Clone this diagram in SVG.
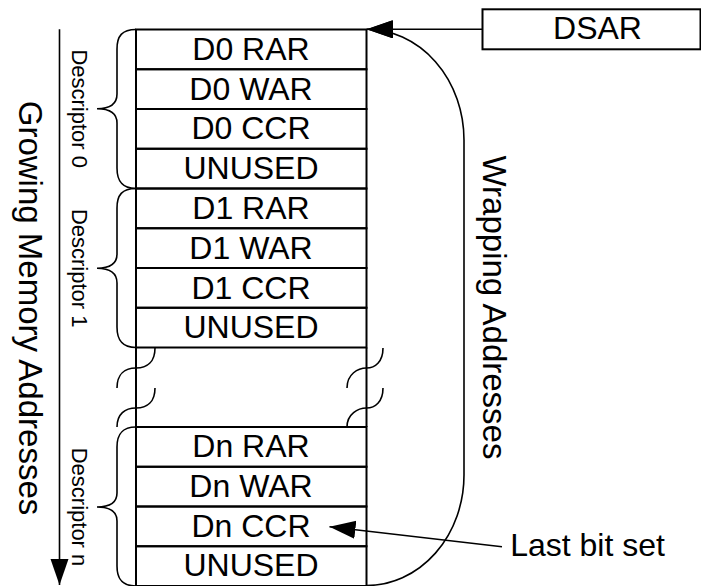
<svg xmlns="http://www.w3.org/2000/svg" width="701" height="586" viewBox="0 0 701 586">
<style>
.ln{fill:none;stroke:#000;stroke-width:2}
.cn{fill:none;stroke:#000;stroke-width:1.6}
.t{font-family:"Liberation Sans",Arial,sans-serif;font-size:32px;text-anchor:middle;fill:#000}
.v{font-family:"Liberation Sans",Arial,sans-serif;font-size:33px;text-anchor:middle;fill:#000}
.d{font-family:"Liberation Sans",Arial,sans-serif;font-size:22px;text-anchor:middle;fill:#000}
</style>
<defs>
<marker id="ah" markerUnits="userSpaceOnUse" markerWidth="28" markerHeight="20" refX="26" refY="9" orient="auto">
<path d="M0,0 L26,9 L0,18 Z" fill="#000"/>
</marker>
</defs>
<rect width="701" height="586" fill="#fff"/>

<g id="descriptor0">
<rect class="ln" x="136" y="29.5" width="230.5" height="39.75"/>
<rect class="ln" x="136" y="69.25" width="230.5" height="39.75"/>
<rect class="ln" x="136" y="109" width="230.5" height="39.75"/>
<rect class="ln" x="136" y="148.75" width="230.5" height="39.75"/>
<text class="t" x="251" y="59.8">D0 RAR</text>
<text class="t" x="251" y="99.5">D0 WAR</text>
<text class="t" x="251" y="139.3">D0 CCR</text>
<text class="t" x="251" y="179">UNUSED</text>
</g>

<g id="descriptor1">
<rect class="ln" x="136" y="188.5" width="230.5" height="39.75"/>
<rect class="ln" x="136" y="228.25" width="230.5" height="39.75"/>
<rect class="ln" x="136" y="268" width="230.5" height="39.75"/>
<rect class="ln" x="136" y="307.75" width="230.5" height="39.75"/>
<text class="t" x="251" y="219">D1 RAR</text>
<text class="t" x="251" y="258.8">D1 WAR</text>
<text class="t" x="251" y="298.5">D1 CCR</text>
<text class="t" x="251" y="338.3">UNUSED</text>
</g>

<g id="gap">
<line class="ln" x1="136" y1="347.5" x2="136" y2="427"/>
<line class="ln" x1="366.5" y1="347.5" x2="366.5" y2="427"/>
<path class="cn" d="M155,348 C155,362 147,368 136,368 C125,368 117,374 117,388"/>
<path class="cn" d="M155,388 C155,402 147,408 136,408 C125,408 117,414 117,427"/>
<path class="cn" d="M383,348 C383,362 375,368 366.5,368 C358,368 347,374 347,388"/>
<path class="cn" d="M383,388 C383,402 375,408 366.5,408 C358,408 347,414 347,427"/>
</g>

<g id="descriptorN">
<rect class="ln" x="136" y="427" width="230.5" height="39.75"/>
<rect class="ln" x="136" y="466.75" width="230.5" height="39.75"/>
<rect class="ln" x="136" y="506.5" width="230.5" height="39.75"/>
<rect class="ln" x="136" y="546.25" width="230.5" height="39.75"/>
<text class="t" x="251" y="457">Dn RAR</text>
<text class="t" x="251" y="496.8">Dn WAR</text>
<text class="t" x="251" y="536.5">Dn CCR</text>
<text class="t" x="251" y="576.3">UNUSED</text>
</g>

<g id="braces">
<path class="cn" d="M136,29.5 C122,29.5 117,36 117,49 L117,94 C117,104 110,108.7 97,108.7 C110,108.7 117,113 117,123 L117,168 C117,181 122,188.5 136,188.5"/>
<path class="cn" d="M136,188.5 C122,188.5 117,195 117,208 L117,254 C117,264 110,268.2 97,268.2 C110,268.2 117,273 117,283 L117,327 C117,340 122,347.5 136,347.5"/>
<path class="cn" d="M136,427 C122,427 117,434 117,447 L117,493 C117,503 110,507 97,507 C110,507 117,511 117,521 L117,566 C117,579 122,586 136,586"/>
</g>

<g id="labels">
<text class="d" transform="translate(71.5,108.7) rotate(90)">Descriptor 0</text>
<text class="d" transform="translate(71.5,268.2) rotate(90)">Descriptor 1</text>
<text class="d" transform="translate(71.5,507) rotate(90)">Descriptor n</text>
<text class="v" transform="translate(19.4,308) rotate(90)">Growing Memory Addresses</text>
<text class="v" transform="translate(483.3,307.5) rotate(90)">Wrapping Addresses</text>
</g>

<g id="dsar">
<rect class="ln" x="482.5" y="9.3" width="218" height="40"/>
<text class="t" x="597.5" y="39.3">DSAR</text>
</g>

<g id="lastbit">
<text class="t" x="587.5" y="556">Last bit set</text>
</g>

<g id="connectors">
<line class="cn" x1="59.5" y1="29.3" x2="59.5" y2="585" marker-end="url(#ah)"/>
<line class="cn" x1="482.5" y1="29.3" x2="367" y2="29.3" marker-end="url(#ah)"/>
<path class="cn" d="M366.5,585.5 A97.5,110.5 0 0 0 464,475 L464,140 A97.5,110.7 0 0 0 366.5,29.3" marker-end="url(#ah)"/>
<line class="cn" x1="502" y1="546.7" x2="329.5" y2="526.7" marker-end="url(#ah)"/>
</g>
</svg>
